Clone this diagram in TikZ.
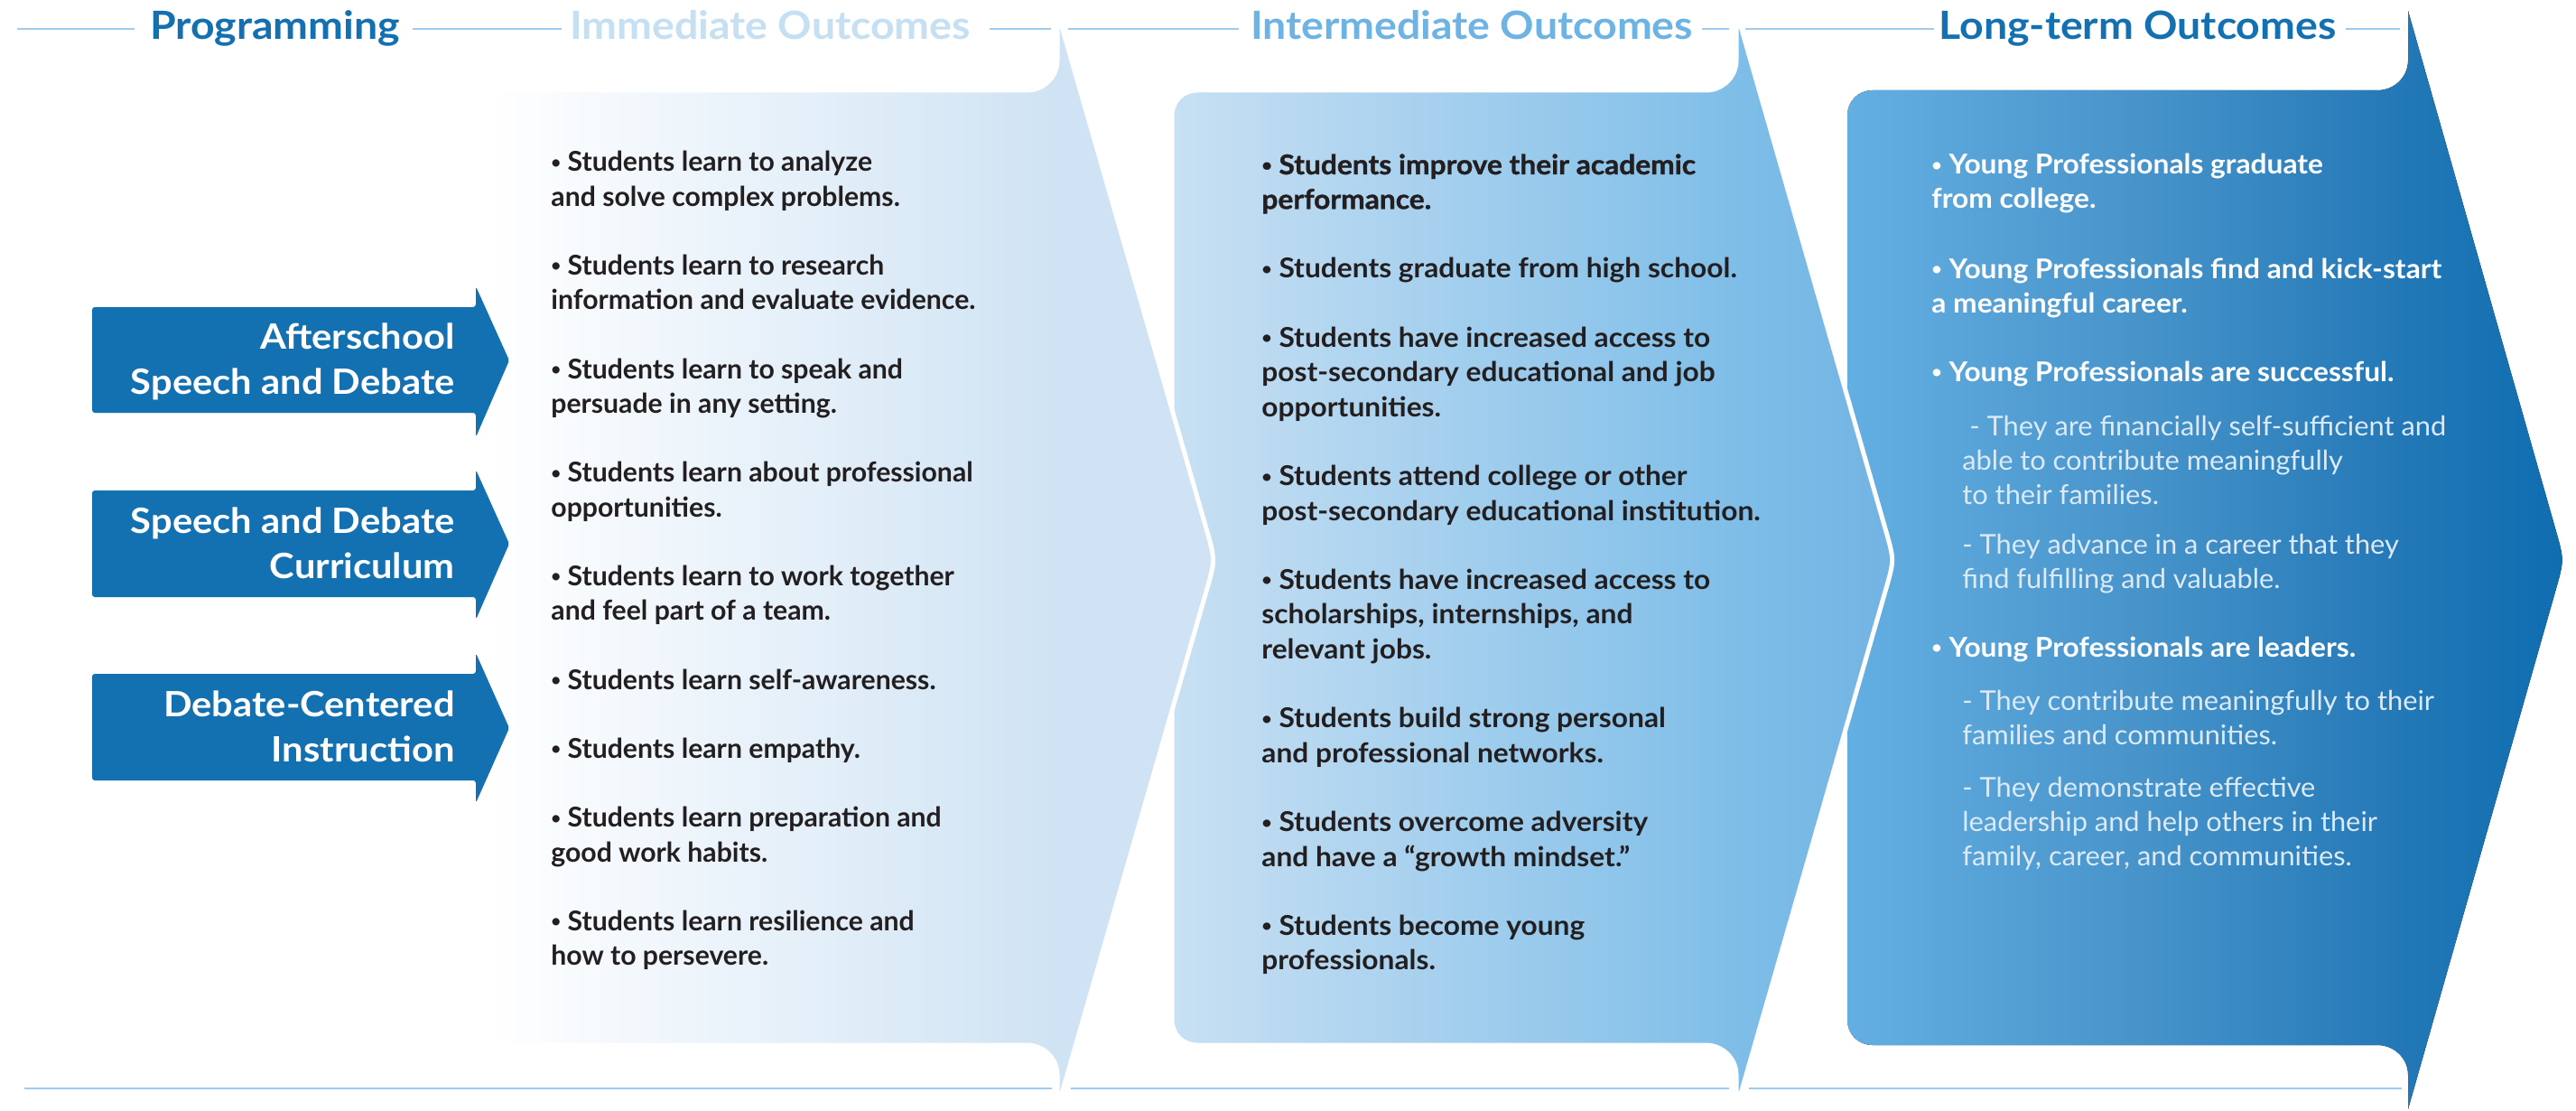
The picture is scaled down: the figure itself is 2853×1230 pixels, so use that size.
\documentclass[tikz,border=0pt]{standalone}
\usepackage{fontspec}
\usepackage{graphicx}
\setmainfont{Lato}
\newfontfamily\headfont{Lato}[FakeStretch=1.08]
\newfontfamily\widefont{Lato}[FakeStretch=1.08]
\newfontfamily\bodyfont{Lato}[FakeStretch=1.05]
\newfontfamily\bodyheavy{Lato}[FakeStretch=1.05, BoldFeatures={FakeBold=1.2}]
\newfontfamily\subfont{Lato}[FakeStretch=1.02]

\definecolor{ink}{HTML}{231F20}
\definecolor{progblue}{HTML}{1370B1}
\definecolor{headlight}{HTML}{C5DFF3}
\definecolor{headmid}{HTML}{6DB4E5}
\definecolor{rulecol}{HTML}{9FCCEC}
\definecolor{subwhite}{HTML}{DCEAF6}
\definecolor{immC}{HTML}{CFE3F4}
\definecolor{intA}{HTML}{C8E0F3}
\definecolor{intB}{HTML}{7DBDE8}
\definecolor{intC}{HTML}{72B3E3}
\definecolor{longA}{HTML}{64AFE2}
\definecolor{longB}{HTML}{4693CA}
\definecolor{longC}{HTML}{2479B7}
\definecolor{longD}{HTML}{0E6DB0}

\pgfdeclarehorizontalshading{immshade}{100bp}{color(0bp)=(white); color(25bp)=(white); color(64bp)=(immC); color(100bp)=(immC)}
\pgfdeclarehorizontalshading{intshade}{100bp}{color(0bp)=(intA); color(25bp)=(intA); color(65bp)=(intB); color(75bp)=(intC); color(100bp)=(intC)}
\pgfdeclarehorizontalshading{longshade}{100bp}{color(0bp)=(longA); color(25bp)=(longA); color(46bp)=(longB); color(63bp)=(longC); color(75bp)=(longD); color(100bp)=(longD)}

% small list bullet
\newcommand{\bul}{\raisebox{0.12em}{\scalebox{0.62}{•}}}
% multi-line blocks whose baseline is that of their first line
\newcommand{\leftlines}[1]{\parbox[t]{400pt}{\raggedright #1}}
\newcommand{\rightlines}[1]{\parbox[t]{250pt}{\raggedleft #1}}

\tikzset{
  rulepen/.style={draw=rulecol, line width=1.3pt},
  header/.style={anchor=base, inner sep=0pt, font=\headfont\bfseries\fontsize{21.5}{26}\selectfont},
  progarrow/.style={fill=progblue, rounded corners=1.5pt},
  progtext/.style={anchor=base east, inner sep=0pt, text=white, font=\widefont\bfseries\fontsize{19.3}{25}\selectfont},
  immtext/.style={anchor=base west, inner sep=0pt, text=ink, font=\bfseries\fontsize{15.1}{19.1}\selectfont},
  inttext/.style={anchor=base west, inner sep=0pt, text=ink, font=\bodyfont\bfseries\fontsize{15.1}{19.15}\selectfont},
  intlead/.style={inttext, font=\bodyheavy\bfseries\fontsize{15.1}{19.15}\selectfont},
  longtext/.style={anchor=base west, inner sep=0pt, text=white, font=\bodyfont\bfseries\fontsize{15.1}{19}\selectfont},
  longsub/.style={anchor=base west, inner sep=0pt, text=subwhite, font=\subfont\fontsize{15.1}{19}\selectfont},
  gapline/.style={draw=white, line width=2.5pt, line join=round}
}

\begin{document}
\begin{tikzpicture}[x=0.5pt, y=-0.5pt]
\useasboundingbox (0,0) rectangle (2853,1230);
\fill[white] (0,0) rectangle (2853,1230);

% rules above and below the columns
\draw[rulepen] (19,32) -- (149,32);
\draw[rulepen] (457,32) -- (622,32);
\draw[rulepen] (1096,32) -- (1164,32);
\draw[rulepen] (1183,32) -- (1372,32);
\draw[rulepen] (1885,32) -- (1915,32);
\draw[rulepen] (1933,32) -- (2142,32);
\draw[rulepen] (2598,32) -- (2658,32);
\draw[rulepen] (27,1205) -- (1165,1205);
\draw[rulepen] (1186,1205) -- (1915,1205);
\draw[rulepen] (1937,1205) -- (2660,1205);

% long-term panel
\fill[shading=longshade] (2074,100) -- (2633,100) .. controls (2652,100) and (2667,85) .. (2667,67)
  -- (2667,12) -- (2830.4,586.3) .. controls (2840,620) .. (2830.4,653.7) -- (2667,1228)
  -- (2667,1190) .. controls (2667,1172) and (2652,1157) .. (2633,1157)
  -- (2074,1157) .. controls (2058,1157) and (2046,1145) .. (2046,1129)
  -- (2046,128) .. controls (2046,112) and (2058,100) .. (2074,100) -- cycle;

% intermediate panel
\path[shading=intshade, gapline] (1326,100) -- (1889,100) .. controls (1908,100) and (1923,85) .. (1923,67)
  -- (1923,12) -- (2088.3,586.4) .. controls (2098,620) .. (2088.3,653.6) -- (1923,1228)
  -- (1923,1190) .. controls (1923,1172) and (1908,1157) .. (1889,1157)
  -- (1326,1157) .. controls (1310,1157) and (1298,1145) .. (1298,1129)
  -- (1298,128) .. controls (1298,112) and (1310,100) .. (1326,100) -- cycle;

% immediate panel
\path[shading=immshade, gapline] (540,100) -- (1137,100) .. controls (1156,100) and (1171,85) .. (1171,67)
  -- (1171,12) -- (1336.3,586.4) .. controls (1346,620) .. (1336.3,653.6) -- (1171,1228)
  -- (1171,1190) .. controls (1171,1172) and (1156,1157) .. (1137,1157)
  -- (540,1157) -- cycle;

% headers
\node[header, text=progblue]  (hprog) at (304.5,44) {Programming};
\node[header, text=headlight] (himm)  at (853,44)   {Immediate Outcomes};
\node[header, text=headmid]   (hint)  at (1630,44)  {Intermediate Outcomes};
\node[header, text=progblue]  (hlong) at (2367.5,44) {Long-term Outcomes};

% programming arrows
\fill[progarrow] (102,340) -- (527,340) -- (527,317) -- (564,399) -- (527,484) -- (527,457) -- (102,457) -- cycle;
\fill[progarrow] (102,543) -- (527,543) -- (527,520) -- (564,602) -- (527,686) -- (527,661) -- (102,661) -- cycle;
\fill[progarrow] (102,746) -- (527,746) -- (527,723) -- (564,806) -- (527,889) -- (527,864) -- (102,864) -- cycle;
\node[progtext] (p1) at (504,386) {\rightlines{Afterschool\\Speech and Debate}};
\node[progtext] (p2) at (504,590) {\rightlines{Speech and Debate\\Curriculum}};
\node[progtext] (p3) at (504,793) {\rightlines{Debate-Centered\\Instruction}};

% immediate outcomes
\node[immtext] (i1) at (610,190)    {\leftlines{\bul{} Students learn to analyze\\and solve complex problems.}};
\node[immtext] (i2) at (610,304.6)  {\leftlines{\bul{} Students learn to research\\information and evaluate evidence.}};
\node[immtext] (i3) at (610,419.2)  {\leftlines{\bul{} Students learn to speak and\\persuade in any setting.}};
\node[immtext] (i4) at (610,533.8)  {\leftlines{\bul{} Students learn about professional\\opportunities.}};
\node[immtext] (i5) at (610,648.4)  {\leftlines{\bul{} Students learn to work together\\and feel part of a team.}};
\node[immtext] (i6) at (610,763)    {\leftlines{\bul{} Students learn self-awareness.}};
\node[immtext] (i7) at (610,839.4)  {\leftlines{\bul{} Students learn empathy.}};
\node[immtext] (i8) at (610,915.8)  {\leftlines{\bul{} Students learn preparation and\\good work habits.}};
\node[immtext] (i9) at (610,1030.4) {\leftlines{\bul{} Students learn resilience and\\how to persevere.}};

% intermediate outcomes
\node[intlead] (m1) at (1397,193)    {\leftlines{\bul{} Students improve their academic\\performance.}};
\node[inttext] (m2) at (1397,307.9)  {\leftlines{\bul{} Students graduate from high school.}};
\node[inttext] (m3) at (1397,384.5)  {\leftlines{\bul{} Students have increased access to\\post-secondary educational and job\\opportunities.}};
\node[inttext] (m4) at (1397,537.7)  {\leftlines{\bul{} Students attend college or other\\post-secondary educational institution.}};
\node[inttext] (m5) at (1397,652.6)  {\leftlines{\bul{} Students have increased access to\\scholarships, internships, and\\relevant jobs.}};
\node[inttext] (m6) at (1397,805.8)  {\leftlines{\bul{} Students build strong personal\\and professional networks.}};
\node[inttext] (m7) at (1397,920.7)  {\leftlines{\bul{} Students overcome adversity\\and have a “growth mindset.”}};
\node[inttext] (m8) at (1397,1035.6) {\leftlines{\bul{} Students become young\\professionals.}};

% long-term outcomes
\node[longtext] (l1) at (2139,193) {\leftlines{\bul{} Young Professionals graduate\\from college.}};
\node[longtext] (l2) at (2139,308) {\leftlines{\bul{} Young Professionals find and kick-start\\a meaningful career.}};
\node[longtext] (l3) at (2139,422) {\leftlines{\bul{} Young Professionals are successful.}};
\node[longsub]  (s1) at (2173,482) {\leftlines{\hspace*{4pt}- They are financially self-sufficient and\\able to contribute meaningfully\\to their families.}};
\node[longsub]  (s2) at (2173,613) {\leftlines{- They advance in a career that they\\find fulfilling and valuable.}};
\node[longtext] (l4) at (2139,727) {\leftlines{\bul{} Young Professionals are leaders.}};
\node[longsub]  (s3) at (2173,786) {\leftlines{- They contribute meaningfully to their\\families and communities.}};
\node[longsub]  (s4) at (2173,882) {\leftlines{- They demonstrate effective\\leadership and help others in their\\family, career, and communities.}};
\end{tikzpicture}
\end{document}
